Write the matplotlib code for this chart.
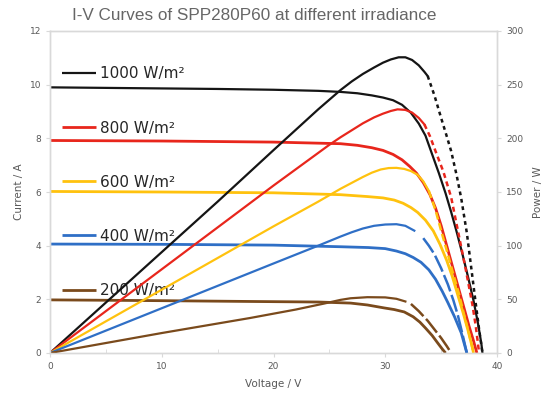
import matplotlib
matplotlib.use("Agg")
import matplotlib.pyplot as plt

# I-V and P-V curves of SPP280P60
irradiance = ["1000 W/m²", "800 W/m²", "600 W/m²", "400 W/m²", "200 W/m²"]
colors = ["#151515", "#e8261c", "#ffc20e", "#2f6fc6", "#7a4a1c"]

# current (A) vs voltage (V)
v_iv_1000 = [0, 5, 10, 15, 20, 24, 26, 27.5, 28.8, 29.8, 30.7, 31.5, 32.3, 33, 33.6, 34.2,
             34.8, 35.4, 35.9, 36.4, 36.9, 37.4, 37.9, 38.3, 38.6, 38.7]
i_1000 = [9.9, 9.88, 9.86, 9.84, 9.81, 9.77, 9.73, 9.68, 9.6, 9.52, 9.42, 9.25, 8.95, 8.55,
          8.1, 7.4, 6.7, 5.95, 5.25, 4.5, 3.7, 2.85, 1.95, 1.1, 0.35, 0.0]
v_iv_800 = [0, 10, 20, 26, 27.5, 28.8, 29.8, 30.7, 31.5, 32.2, 32.8, 33.4, 34, 34.5, 35,
            35.5, 36, 36.5, 37, 37.5, 37.9, 38.2]
i_800 = [7.92, 7.9, 7.86, 7.8, 7.74, 7.65, 7.55, 7.4, 7.2, 6.95, 6.7, 6.35, 5.9, 5.4, 4.75,
         4.0, 3.25, 2.5, 1.75, 1.0, 0.45, 0.0]
v_iv_600 = [0, 10, 20, 26, 28.4, 29.8, 30.8, 31.6, 32.3, 32.9, 33.6, 34.3, 34.9, 35.5, 36,
            36.5, 37, 37.4, 37.8, 37.9]
i_600 = [6.02, 6.0, 5.97, 5.9, 5.83, 5.78, 5.7, 5.58, 5.42, 5.24, 4.95, 4.55, 4.05, 3.45,
         2.85, 2.15, 1.45, 0.85, 0.2, 0.0]
v_iv_400 = [0, 10, 20, 26, 28.5, 30, 31, 31.8, 32.5, 33.2, 33.9, 34.5, 35.1, 35.6, 36.2,
            36.8, 37.3]
i_400 = [4.06, 4.05, 4.02, 3.96, 3.93, 3.89, 3.8, 3.7, 3.56, 3.38, 3.1, 2.75, 2.3, 1.88,
         1.35, 0.75, 0.0]
v_iv_200 = [0, 10, 18, 24, 26.9, 28.4, 29.9, 30.8, 31.7, 32.5, 33.1, 33.6, 34.2, 34.7,
            35.1, 35.4]
i_200 = [1.98, 1.95, 1.92, 1.9, 1.86, 1.79, 1.68, 1.62, 1.53, 1.35, 1.15, 0.93, 0.65, 0.37,
         0.15, 0.0]

# power (W) vs voltage (V): measured part (solid) and extrapolated part (dashed)
v_p_1000 = [0, 5, 10, 15, 20, 24, 26, 27, 28, 29, 29.8, 30.5, 31.2, 31.8, 32.4, 33, 33.5, 33.8]
p_1000 = [0, 47, 94, 141, 189, 227, 245, 253, 260, 266, 270.5, 273.5, 275.5, 275.5, 273,
          268, 262, 258]
v_pd_1000 = [33.8, 34.4, 35, 35.5, 35.9, 36.4, 36.8, 37.3, 37.7, 38.1, 38.4, 38.7]
pd_1000 = [258, 240, 219, 202, 188, 165, 144, 112, 79, 46, 22, 0]

v_p_800 = [0, 5, 10, 15, 20, 25, 26, 27, 28, 29, 29.8, 30.5, 31.1, 31.8, 32.4, 33, 33.5]
p_800 = [0, 39, 78, 117, 156, 194, 201, 207.5, 214, 219.5, 223, 225.5, 227, 226.5, 224,
         219, 213]
v_pd_800 = [33.5, 34, 34.5, 35.2, 35.9, 36.5, 37.2, 37.8, 38.1, 38.4]
pd_800 = [213, 202, 188, 169, 145, 114, 78, 45, 25, 0]

v_p_600 = [0, 5, 10, 15, 20, 24, 26, 27, 28, 28.8, 29.6, 30.3, 31, 31.7, 32.3, 32.9, 33.4, 33.9]
p_600 = [0, 29.5, 59, 88.5, 118, 141, 153, 158.5, 164, 168, 171, 172.3, 172.5, 171.5,
         169.5, 166, 160, 151]
v_pd_600 = [33.9, 34.5, 35, 35.6, 36.1, 36.6, 37, 37.5, 37.9]
pd_600 = [151, 133, 114, 92, 73, 55, 38, 18, 0]

v_p_400 = [0, 10, 20, 24, 26, 27, 28, 29, 30, 31, 31.8, 32.6]
p_400 = [0, 41.7, 83.4, 100, 108.5, 112.5, 116, 118.5, 119.7, 120, 118.5, 114]
v_pd_400 = [33.4, 33.9, 34.4, 35, 35.6, 36.1, 36.5, 36.9, 37.3]
pd_400 = [107, 100, 92, 79, 64, 49, 35, 18, 0]

v_p_200 = [0, 10, 17.9, 22, 24.5, 26, 26.9, 28.4, 30, 31, 31.8]
p_200 = [0, 18.6, 32.6, 40.5, 46, 49.5, 51, 52, 51.8, 50.5, 48]
v_pd_200 = [32.3, 33, 33.8, 34.4, 35, 35.5, 35.9]
pd_200 = [45.7, 39, 30, 22, 14, 6.5, 0]

iv_curves = [(v_iv_1000, i_1000), (v_iv_800, i_800), (v_iv_600, i_600),
             (v_iv_400, i_400), (v_iv_200, i_200)]
p_curves = [(v_p_1000, p_1000), (v_p_800, p_800), (v_p_600, p_600),
            (v_p_400, p_400), (v_p_200, p_200)]
pd_curves = [(v_pd_1000, pd_1000), (v_pd_800, pd_800), (v_pd_600, pd_600),
             (v_pd_400, pd_400), (v_pd_200, pd_200)]
dashes = [(0, (1.5, 1.5)), (0, (2, 1.5)), (0, (3, 1.5)), (0, (7, 1.5)), (0, (7, 1.5))]

grey = "#d9d9d9"
txt = "#595959"

fig = plt.figure(figsize=(5.51, 3.96), dpi=100)
ax = fig.add_axes([50 / 551, 1 - 353 / 396, 447 / 551, 322 / 396])
ax2 = ax.twinx()

handles = []
for k in range(5):
    lw = 1.6 if k == 0 else 2.0
    h, = ax.plot(iv_curves[k][0], iv_curves[k][1], color=colors[k], lw=lw,
                 solid_capstyle="butt", solid_joinstyle="round", label=irradiance[k])
    handles.append(h)
    ax2.plot(p_curves[k][0], p_curves[k][1], color=colors[k], lw=1.6,
             solid_joinstyle="round")
    ax2.plot(pd_curves[k][0], pd_curves[k][1], color=colors[k], lw=1.8,
             linestyle=dashes[k])

ax.set_xlim(0, 40)
ax.set_ylim(0, 12)
ax2.set_ylim(0, 300)
ax.set_xticks([0, 10, 20, 30, 40])
ax.set_xticks([5, 15, 25, 35], minor=True)
ax.set_yticks(range(0, 13, 2))
ax2.set_yticks(range(0, 301, 50))

for a in (ax, ax2):
    for s in a.spines.values():
        s.set_color(grey)
        s.set_linewidth(1.0)
    a.tick_params(colors=grey, labelcolor=txt, labelsize=6.5, length=3, width=0.8)
ax.tick_params(axis="x", which="minor", direction="in", length=3, colors=grey)

ax.set_xlabel("Voltage / V", fontsize=7.5, color=txt, labelpad=6)
ax.set_ylabel("Current / A", fontsize=7.5, color=txt, labelpad=4)
ax2.set_ylabel("Power / W", fontsize=7.5, color=txt, labelpad=7)

leg = ax.legend(handles=handles, loc="upper left", bbox_to_anchor=(0.027, 0.89),
                frameon=False, fontsize=11, handlelength=2.2, handletextpad=0.3,
                labelspacing=2.56, borderpad=0, borderaxespad=0)
for t in leg.get_texts():
    t.set_color("#262626")

fig.text(254 / 551, 1 - 15 / 396, "I-V Curves of SPP280P60 at different irradiance",
         ha="center", va="center", fontsize=12.3, color="#666666", family="Liberation Sans")

fig.savefig("out.png", dpi=100)
